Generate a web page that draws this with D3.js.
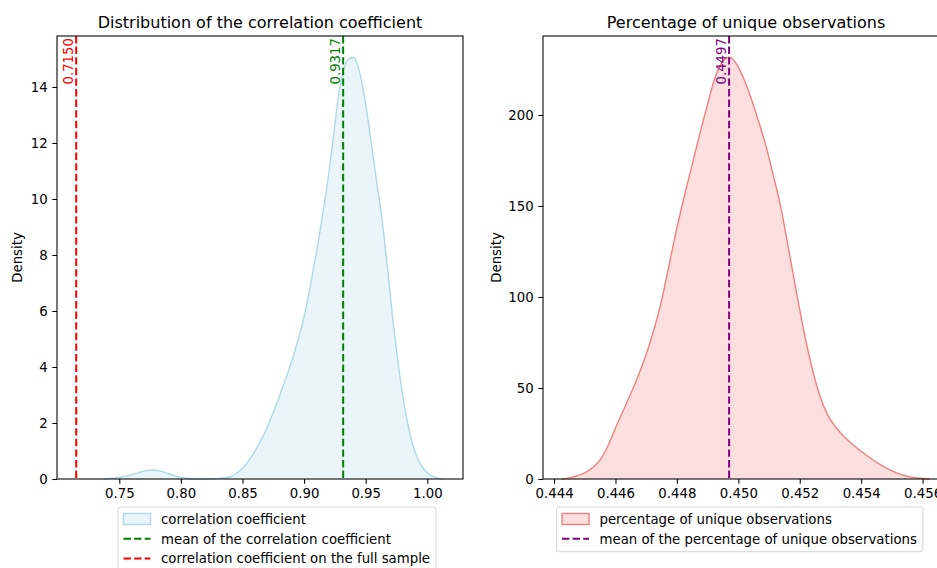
<!DOCTYPE html>
<html>
<head>
<meta charset="utf-8">
<script src="https://cdn.jsdelivr.net/npm/d3@7"></script>
<style>
  body { margin: 0; background: #fff; }
  svg { display: block; font-family: "DejaVu Sans", sans-serif; }
</style>
</head>
<body>
<div id="chart"></div>
<script>
// correlation coefficient KDE
var corrX = [0.738, 0.745, 0.752, 0.759, 0.766, 0.772, 0.777, 0.782, 0.788, 0.794, 0.800, 0.806, 0.814,
    0.824, 0.832, 0.840, 0.844, 0.848, 0.852, 0.856, 0.860, 0.864, 0.868, 0.872, 0.876, 0.880, 0.884,
    0.888, 0.892, 0.896, 0.900, 0.904, 0.908, 0.912, 0.916, 0.920, 0.924, 0.928, 0.932, 0.936, 0.940,
    0.944, 0.948, 0.952, 0.956, 0.960, 0.964, 0.968, 0.972, 0.976, 0.980, 0.984, 0.988, 0.992, 0.996,
    1.000, 1.004, 1.008, 1.013];
var corrDensity = [0, 0.025, 0.07, 0.14, 0.23, 0.3, 0.32, 0.3, 0.22, 0.13, 0.06, 0.02, 0.005,
    0.008, 0.03, 0.08, 0.17, 0.3, 0.48, 0.72, 0.99, 1.3, 1.65, 2.05, 2.5, 2.95, 3.45,
    3.95, 4.5, 5.1, 5.8, 6.65, 7.6, 8.6, 9.7, 10.9, 12.3, 13.7, 14.6, 15.0, 15.06,
    14.7, 13.9, 12.8, 11.5, 10.3, 9.0, 7.4, 5.7, 4.25, 3.0, 2.0, 1.25, 0.75, 0.42,
    0.22, 0.1, 0.04, 0];

// percentage of unique observations KDE
var uniqX = [0.44425, 0.4445, 0.44475, 0.445, 0.44525, 0.4455, 0.44575, 0.446, 0.44625, 0.4465,
    0.44675, 0.447, 0.44725, 0.4475, 0.44775, 0.448, 0.44825, 0.4485, 0.44875, 0.449,
    0.44925, 0.4495, 0.4497, 0.4499, 0.45015, 0.4504, 0.45065, 0.4509, 0.45115, 0.4514,
    0.45165, 0.4519, 0.45215, 0.4524, 0.45265, 0.4529, 0.45315, 0.4534, 0.45365, 0.4539,
    0.45415, 0.4544, 0.45465, 0.4549, 0.45515, 0.4554, 0.45565, 0.4559, 0.45623];
var uniqDensity = [0, 0.6, 1.8, 3.4, 6.2, 10.5, 18, 28, 37.5, 47,
    57, 68.5, 82, 98, 118, 138, 156, 173, 190, 206,
    221, 229.5, 231.7, 229, 221, 210, 197, 183, 166, 148,
    125, 102, 80, 61, 46, 35.5, 29, 24, 20, 16.5,
    13.3, 10.3, 7.6, 5.3, 3.4, 1.9, 1.0, 0.4, 0];

var corrMean = 0.9317;
var corrFull = 0.7150;
var uniqMean = 0.4497;

var corrXTicks = [0.75, 0.80, 0.85, 0.90, 0.95, 1.00];
var corrYTicks = [0, 2, 4, 6, 8, 10, 12, 14];
var uniqXTicks = [0.444, 0.446, 0.448, 0.450, 0.452, 0.454, 0.456];
var uniqYTicks = [0, 50, 100, 150, 200];

var corrLegend = ["correlation coefficient", "mean of the correlation coefficient", "correlation coefficient on the full sample"];
var uniqLegend = ["percentage of unique observations", "mean of the percentage of unique observations"];

var W = 937, H = 568;
var FS = 13.3;

var svg = d3.select("#chart").append("svg")
    .attr("width", W)
    .attr("height", H);

function panel(o) {
    var x = d3.scaleLinear().domain(o.xDomain).range([o.left, o.right]);
    var y = d3.scaleLinear().domain(o.yDomain).range([o.bottom, o.top]);
    var g = svg.append("g");

    // density area
    var pts = o.xs.map(function(v, i) { return [v, o.ys[i]]; });
    var area = d3.area()
        .x(function(d) { return x(d[0]); })
        .y0(y(0))
        .y1(function(d) { return y(d[1]); })
        .curve(d3.curveMonotoneX);
    var line = d3.line()
        .x(function(d) { return x(d[0]); })
        .y(function(d) { return y(d[1]); })
        .curve(d3.curveMonotoneX);
    g.append("path").attr("d", area(pts))
        .attr("fill", o.color).attr("fill-opacity", 0.25);
    g.append("path").attr("d", line(pts))
        .attr("fill", "none").attr("stroke", o.color).attr("stroke-width", 1.4);

    // vertical dashed lines with rotated labels
    o.vlines.forEach(function(v) {
        var px = x(v.value);
        g.append("line")
            .attr("x1", px).attr("x2", px)
            .attr("y1", o.top).attr("y2", o.bottom)
            .attr("stroke", v.color).attr("stroke-width", 2)
            .attr("stroke-dasharray", "7.4,3.2");
        g.append("text")
            .attr("transform", "translate(" + (px - 3) + "," + (o.top + 2) + ") rotate(-90)")
            .attr("text-anchor", "end")
            .attr("font-size", FS)
            .attr("fill", v.color)
            .text(v.value.toFixed(4));
    });

    // axes
    var xAxis = d3.axisBottom(x).tickValues(o.xTicks).tickFormat(d3.format(o.xFmt))
        .tickSizeInner(4.7).tickSizeOuter(0).tickPadding(4.7);
    var yAxis = d3.axisLeft(y).tickValues(o.yTicks).tickFormat(d3.format("d"))
        .tickSizeInner(4.7).tickSizeOuter(0).tickPadding(4.7);
    var gx = g.append("g").attr("transform", "translate(0," + o.bottom + ")").call(xAxis);
    var gy = g.append("g").attr("transform", "translate(" + o.left + ",0)").call(yAxis);
    [gx, gy].forEach(function(a) {
        a.select(".domain").remove();
        a.selectAll("text").attr("font-size", FS).attr("fill", "#000")
            .attr("font-family", "DejaVu Sans, sans-serif");
        a.selectAll("line").attr("stroke", "#000").attr("stroke-width", 1.07);
    });

    // frame
    g.append("rect")
        .attr("x", o.left).attr("y", o.top)
        .attr("width", o.right - o.left).attr("height", o.bottom - o.top)
        .attr("fill", "none").attr("stroke", "#000").attr("stroke-width", 1.07);

    // title and y label
    g.append("text")
        .attr("x", (o.left + o.right) / 2).attr("y", o.top - 8)
        .attr("text-anchor", "middle").attr("font-size", 16).attr("fill", "#000")
        .text(o.title);
    g.append("text")
        .attr("transform", "translate(" + o.ylabelX + "," + ((o.top + o.bottom) / 2) + ") rotate(-90)")
        .attr("text-anchor", "middle").attr("font-size", FS).attr("fill", "#000")
        .text("Density");

    // legend
    var lg = g.append("g");
    var box = lg.append("rect")
        .attr("x", o.legX).attr("y", o.legY)
        .attr("rx", 2.7)
        .attr("fill", "#fff").attr("fill-opacity", 0.8)
        .attr("stroke", "#d6d6d6").attr("stroke-width", 1);
    var maxW = 0;
    o.legend.forEach(function(item, i) {
        var cy = o.legY + 12 + i * 19.7;
        var hx = o.legX + 5.5;
        if (item.type == "patch") {
            lg.append("rect")
                .attr("x", hx).attr("y", cy - 5.5)
                .attr("width", 27).attr("height", 11)
                .attr("fill", item.color).attr("fill-opacity", 0.25)
                .attr("stroke", item.color).attr("stroke-width", 1.4);
        } else {
            lg.append("line")
                .attr("x1", hx).attr("x2", hx + 27)
                .attr("y1", cy).attr("y2", cy)
                .attr("stroke", item.color).attr("stroke-width", 2)
                .attr("stroke-dasharray", "7.4,3.2");
        }
        var t = lg.append("text")
            .attr("x", hx + 37.5).attr("y", cy + 4.8)
            .attr("font-size", FS).attr("fill", "#000")
            .text(item.label);
        maxW = Math.max(maxW, t.node().getComputedTextLength());
    });
    box.attr("width", 5.5 + 37.5 + maxW + 6)
        .attr("height", 24 + (o.legend.length - 1) * 19.7 + 1);
}

panel({
    left: 57, right: 463, top: 36, bottom: 479,
    xDomain: [0.69943, 1.02898], yDomain: [0, 15.82],
    xs: corrX, ys: corrDensity, color: "#add8e6",
    xTicks: corrXTicks, yTicks: corrYTicks, xFmt: ".2f",
    vlines: [{ value: corrMean, color: "green" }, { value: corrFull, color: "red" }],
    title: "Distribution of the correlation coefficient",
    ylabelX: 22,
    legX: 118, legY: 507,
    legend: [
        { type: "patch", color: "#add8e6", label: corrLegend[0] },
        { type: "line", color: "green", label: corrLegend[1] },
        { type: "line", color: "red", label: corrLegend[2] }
    ]
});

panel({
    left: 543, right: 949, top: 36, bottom: 479,
    xDomain: [0.44364, 0.45686], yDomain: [0, 243.4],
    xs: uniqX, ys: uniqDensity, color: "#f08080",
    xTicks: uniqXTicks, yTicks: uniqYTicks, xFmt: ".3f",
    vlines: [{ value: uniqMean, color: "purple" }],
    title: "Percentage of unique observations",
    ylabelX: 501,
    legX: 556.5, legY: 507,
    legend: [
        { type: "patch", color: "#f08080", label: uniqLegend[0] },
        { type: "line", color: "purple", label: uniqLegend[1] }
    ]
});
</script>
</body>
</html>
